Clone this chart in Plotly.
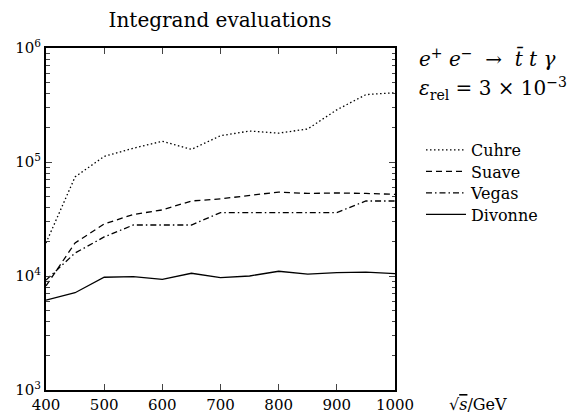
import plotly.graph_objects as go

energy = [400, 450, 500, 550, 600, 650, 700, 750, 800, 850, 900, 950, 1000]
cuhre = [19500, 74000, 112000, 132000, 152000, 129000, 170000, 187000, 179000, 195000, 287000, 390000, 405000]
suave = [8200, 19500, 28600, 34600, 38000, 45500, 47500, 51000, 54500, 53000, 53500, 53000, 52000]
vegas = [9200, 15900, 22000, 28000, 28000, 28000, 36000, 36000, 36000, 36000, 36000, 45500, 45500]
divonne = [6150, 7130, 9750, 9860, 9350, 10570, 9660, 10000, 11000, 10400, 10700, 10800, 10500]

series_names = ["Cuhre", "Suave", "Vegas", "Divonne"]
series_values = [cuhre, suave, vegas, divonne]
series_dash = ["1.5px,2.5px", "6px,4px", "6px,3px,1.5px,3px", "solid"]

x_ticks = [400, 500, 600, 700, 800, 900, 1000]
y_ticks = [1e3, 1e4, 1e5, 1e6]
y_tick_text = ["10<sup>3</sup>", "10<sup>4</sup>", "10<sup>5</sup>", "10<sup>6</sup>"]

FONT = "DejaVu Serif, serif"

# page offset (browser body margin) = 8 px
PLOT_L, PLOT_R, PLOT_T, PLOT_B = 46, 395, 48, 390
PW, PH = PLOT_R - PLOT_L, PLOT_B - PLOT_T


def px_x(x):
    return (x - PLOT_L) / PW


def px_y(y):
    return 1 - (y - PLOT_T) / PH


fig = go.Figure()
legend_rows = [150, 171.5, 193, 214.5]
legend_names = ["legend", "legend2", "legend3", "legend4"]
for i, (name, vals, dash) in enumerate(zip(series_names, series_values, series_dash)):
    fig.add_trace(go.Scatter(x=energy, y=vals, mode="lines", name=name,
                             legend=legend_names[i],
                             line=dict(color="black", width=1.3, dash=dash)))

layout_legends = {}
for i, ln in enumerate(legend_names):
    layout_legends[ln] = dict(x=px_x(421), y=px_y(legend_rows[i]), xanchor="left",
                              yanchor="middle", bgcolor="rgba(0,0,0,0)",
                              font=dict(family=FONT, size=16), itemwidth=40)

fig.update_layout(
    width=567, height=406,
    margin=dict(l=38, r=180, t=40, b=24, autoexpand=False),
    paper_bgcolor="white", plot_bgcolor="white",
    font=dict(family=FONT, size=15, color="black"),
    title=dict(text="Integrand evaluations", x=(220 - 8) / 567, xanchor="center",
               y=1 - 12 / 406, yanchor="middle", font=dict(family=FONT, size=20)),
    showlegend=True,
    **layout_legends,
)

fig.update_xaxes(range=[400, 1000], tickvals=x_ticks, ticks="inside", ticklen=6,
                 tickwidth=1.3, showline=True, linewidth=2, linecolor="black",
                 mirror="allticks", showgrid=False, zeroline=False, automargin=False,
                 tickfont=dict(family=FONT, size=15))
fig.update_yaxes(type="log", range=[3, 6], tickvals=y_ticks, ticktext=y_tick_text,
                 ticks="inside", ticklen=6, tickwidth=1.3, showline=True, linewidth=2,
                 linecolor="black", mirror="allticks", showgrid=False, zeroline=False,
                 automargin=False, tickfont=dict(family=FONT, size=15),
                 minor=dict(ticks="inside", ticklen=3.5, tickwidth=1, showgrid=False,
                            dtick="D1"))

fig.add_annotation(xref="paper", yref="paper", x=px_x(417), y=px_y(58),
                   xanchor="left", yanchor="middle", showarrow=False,
                   text="<i>e</i><sup>+</sup> <i>e</i><sup>−</sup>  →  <i>t̄</i> <i>t</i> <i>γ</i>",
                   font=dict(family=FONT, size=20))
fig.add_annotation(xref="paper", yref="paper", x=px_x(417), y=px_y(89),
                   xanchor="left", yanchor="middle", showarrow=False,
                   text="<i>ε</i><sub>rel</sub> = 3 × 10<sup>−3</sup>",
                   font=dict(family=FONT, size=20))
fig.add_annotation(xref="paper", yref="paper", x=px_x(478), y=px_y(405),
                   xanchor="center", yanchor="middle", showarrow=False,
                   text="√<span style='text-decoration:overline'><i>s</i></span>/GeV",
                   font=dict(family=FONT, size=16))

fig.write_html("out.html")
